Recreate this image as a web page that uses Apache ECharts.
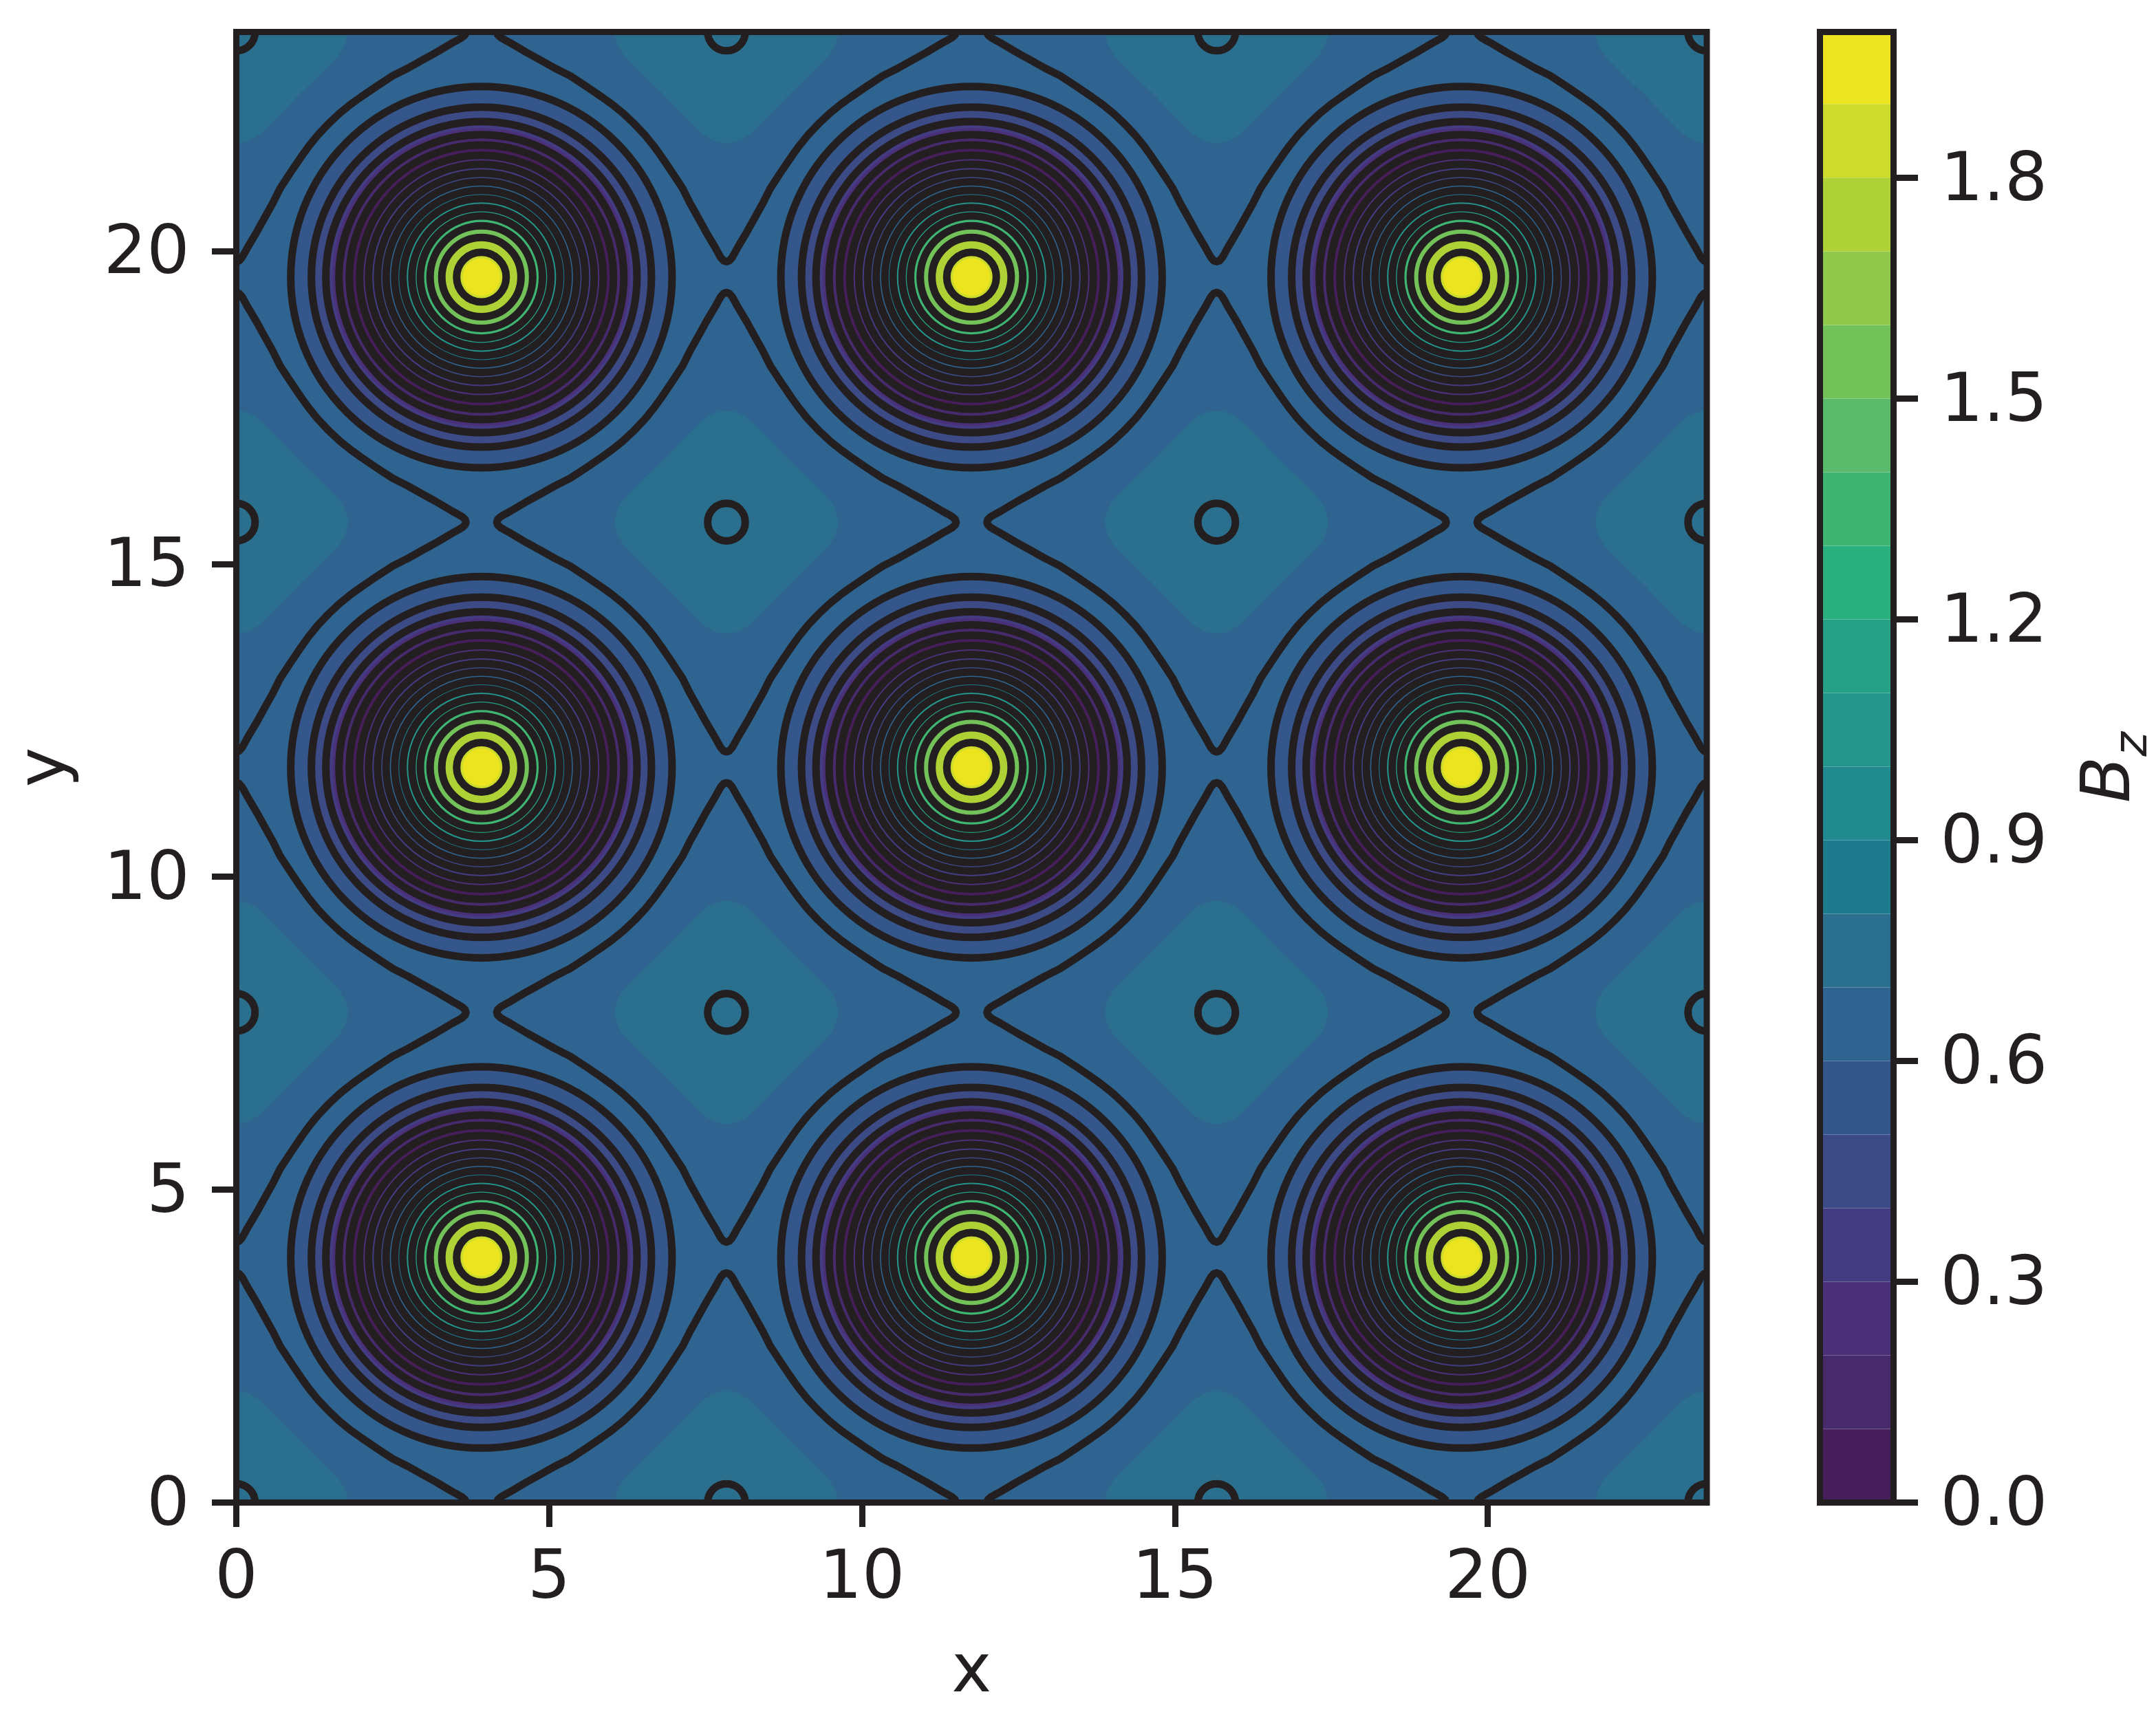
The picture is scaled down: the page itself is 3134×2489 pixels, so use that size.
<!DOCTYPE html>
<html>
<head>
<meta charset="utf-8">
<style>html,body{margin:0;padding:0;background:#fff}#c{width:3134px;height:2489px}</style>
<script src="https://cdn.jsdelivr.net/npm/echarts@6/dist/echarts.min.js"></script>
</head>
<body>
<div id="c"></div>
<script>
// Tick labels
var xyTicks = [0, 5, 10, 15, 20];
var colorbarTicks = [0.0, 0.3, 0.6, 0.9, 1.2, 1.5, 1.8];
var domainMax = 23.5;
var colorbarMax = 1.998;

// Filled contour bands: one colour per 0.1 step of Bz
var bandLevels = [0,0.1,0.2,0.3,0.4,0.5,0.6,0.7,0.8,0.9,1.0,1.1,1.2,1.3,1.4,1.5,1.6,1.7,1.8,1.9];
var bandColors = ['#461E5A','#472A6C','#4A3079','#433C83','#3C4A86','#34568B','#2F6490','#2A708E','#1E7B8D','#208A8F',
                  '#23958B','#26A185','#2AB07F','#3FB574','#58BA6A','#72C159','#8FC84A','#AED136','#CDDC2C','#ECE41F'];

// Positions of field extremes
var vortexX = [3.917, 11.75, 19.583];
var vortexY = [3.917, 11.75, 19.583];
var saddleX = [0, 7.833, 15.667, 23.5];
var saddleY = [0, 7.833, 15.667, 23.5];

// Radii of the round black contour lines around a vortex
var ringRadii = [3.047,2.717,2.486,2.277,2.112,1.947,1.804,1.661,1.524,1.386,1.254,1.111,0.976,0.820,0.633,0.396];
// Filled discs around a vortex, outermost first: radius and band index
var discRadii = [3.047,2.717,2.486,2.38,2.277,2.112,1.947,1.804,1.661,1.524,1.386,1.254,1.111,0.976,0.820,0.633,0.396,0.30];
var discBands = [5,4,3,2,1,0,2,3,4,6,8,10,11,13,15,17,18,19];

// Small contour around each saddle-centre maximum
var smallRingRadius = 0.30;
// The 0.7 band boundary around each maximum: half of a quadrant, tip to diagonal
var diamondDx = [1.78,1.77,1.735,1.68,1.61,1.52,1.42,1.28,1.00];
var diamondDy = [0,0.10,0.21,0.31,0.40,0.49,0.59,0.73,1.00];
// The outer black contour around each maximum: half of a quadrant, tip to diagonal
var sepDx = [3.67,3.655,3.605,3.535,3.45,3.19,2.99,2.74,2.50,2.24,1.99,1.83,1.65,1.47];
var sepDy = [0,0.045,0.09,0.13,0.176,0.33,0.44,0.58,0.70,0.87,1.04,1.155,1.30,1.47];

var ink = '#231F20', lineW = 11, font = 'DejaVu Sans', fs = 98;

function loop(dx, dy) {
  var q = [], i;
  for (i = 0; i < dx.length; i++) q.push([dx[i], dy[i]]);
  for (i = dx.length - 2; i >= 0; i--) q.push([dy[i], dx[i]]);
  var out = [];
  [[1,0,0,1],[0,-1,1,0],[-1,0,0,-1],[0,1,-1,0]].forEach(function (m) {
    q.forEach(function (p) { out.push([m[0]*p[0]+m[1]*p[1], m[2]*p[0]+m[3]*p[1]]); });
  });
  return out;
}
var diamondLoop = loop(diamondDx, diamondDy), sepLoop = loop(sepDx, sepDy);

function product(xs, ys) {
  var out = [];
  xs.forEach(function (x) { ys.forEach(function (y) { out.push([x, y]); }); });
  return out;
}

function loopRender(points, fill, stroke) {
  return function (params, api) {
    var cx = api.value(0), cy = api.value(1);
    return {
      type: 'polygon',
      shape: { points: points.map(function (p) { return api.coord([cx + p[0], cy + p[1]]); }) },
      style: { fill: fill, stroke: stroke, lineWidth: stroke ? lineW : 0, lineJoin: 'round' }
    };
  };
}
function discRender(params, api) {
  var c = api.coord([api.value(0), api.value(1)]);
  return { type: 'circle', shape: { cx: c[0], cy: c[1], r: api.size([api.value(2), 0])[0] },
           style: { fill: bandColors[api.value(3)] } };
}
function ringRender(params, api) {
  var c = api.coord([api.value(0), api.value(1)]);
  return { type: 'circle', shape: { cx: c[0], cy: c[1], r: api.size([api.value(2), 0])[0] },
           style: { fill: 'none', stroke: ink, lineWidth: lineW } };
}
function frameRender(xMax, yMax) {
  return function (params, api) {
    var a = api.coord([0, yMax]), b = api.coord([xMax, 0]);
    return { type: 'rect', shape: { x: a[0], y: a[1], width: b[0]-a[0], height: b[1]-a[1] },
             style: { fill: 'none', stroke: ink, lineWidth: 9 } };
  };
}
function bandRender(params, api) {
  var a = api.coord([0, Math.min(api.value(0) + 0.1, colorbarMax)]), b = api.coord([1, api.value(0)]);
  return { type: 'rect', shape: { x: a[0], y: a[1], width: b[0]-a[0], height: b[1]-a[1] },
           style: { fill: bandColors[params.dataIndex] } };
}

var discData = [];
vortexX.forEach(function (x) { vortexY.forEach(function (y) {
  discRadii.forEach(function (r, i) { discData.push([x, y, r, discBands[i]]); });
}); });
var ringData = [];
vortexX.forEach(function (x) { vortexY.forEach(function (y) {
  ringRadii.forEach(function (r) { ringData.push([x, y, r]); });
}); });
var smallData = product(saddleX, saddleY).map(function (p) { return [p[0], p[1], smallRingRadius]; });

function custom(data, render, clip, extra) {
  var s = { type: 'custom', data: data, renderItem: render, clip: clip, silent: true, animation: false,
            xAxisIndex: 0, yAxisIndex: 0, progressive: 0 };
  for (var k in extra) s[k] = extra[k];
  return s;
}

function axisCommon(ticks, fmt, margin, padTop) {
  return {
    axisLine: { show: false, onZero: false },
    axisTick: { show: true, length: 35.5, lineStyle: { color: ink, width: 9 }, customValues: ticks },
    axisLabel: { show: true, color: ink, fontFamily: font, fontSize: fs, margin: margin, customValues: ticks,
      formatter: function (v) { return '{t|' + fmt(v) + '}'; },
      rich: { t: { color: ink, fontFamily: font, fontSize: fs, padding: [padTop, 0, 0, 0] } } },
    splitLine: { show: false }
  };
}
function merge(a, b) { for (var k in b) a[k] = b[k]; return a; }
var intFmt = function (v) { return String(Math.round(v)); };
var nameStyle = { color: ink, fontFamily: font, fontSize: fs };

var chart = echarts.init(document.getElementById('c'), null, { renderer: 'canvas', width: 3134, height: 2489 });
chart.setOption({
  backgroundColor: '#fff',
  animation: false,
  grid: [
    { left: 343.5, top: 46.5, width: 2137.5, height: 2138, show: true, backgroundColor: bandColors[6], borderWidth: 0, outerBoundsMode: 'none' },
    { left: 2645.5, top: 46.5, width: 107, height: 2138, outerBoundsMode: 'none' }
  ],
  xAxis: [
    merge({ type: 'value', gridIndex: 0, min: 0, max: domainMax, interval: 5, position: 'bottom',
      name: 'x', nameLocation: 'middle', nameGap: 200, nameTextStyle: nameStyle }, axisCommon(xyTicks, intFmt, 64, 0)),
    { type: 'value', gridIndex: 1, min: 0, max: 1, axisLine: { show: false, onZero: false }, axisTick: { show: false }, axisLabel: { show: false }, splitLine: { show: false } }
  ],
  yAxis: [
    merge({ type: 'value', gridIndex: 0, min: 0, max: domainMax, interval: 5, position: 'left',
      name: 'y', nameLocation: 'middle', nameGap: 226, nameTextStyle: nameStyle }, axisCommon(xyTicks, intFmt, 68, 14)),
    merge({ type: 'value', gridIndex: 1, min: 0, max: colorbarMax, interval: 0.3, position: 'right',
      name: '{b|B}{z|z}', nameLocation: 'middle', nameRotate: 90, nameGap: 268,
      nameTextStyle: { color: ink, rich: {
        b: { fontFamily: font, fontStyle: 'italic', fontSize: fs, color: ink, lineHeight: 116, verticalAlign: 'top' },
        z: { fontFamily: font, fontStyle: 'italic', fontSize: 68, color: ink, lineHeight: 116, verticalAlign: 'bottom' }
      } } },
      axisCommon(colorbarTicks, function (v) { return v.toFixed(1); }, 68, 14))
  ],
  series: [
    custom(product(saddleX, saddleY), loopRender(diamondLoop, bandColors[7], null), true, { z: 2 }),
    custom(discData, discRender, true, { z: 3 }),
    custom(ringData, ringRender, true, { z: 4 }),
    custom(product(saddleX, saddleY), loopRender(sepLoop, 'none', ink), true, { z: 4 }),
    custom(smallData, ringRender, true, { z: 4 }),
    custom([[0]], frameRender(domainMax, domainMax), false, { z: 6 }),
    custom(bandLevels.map(function (v) { return [v]; }), bandRender, true, { z: 2, xAxisIndex: 1, yAxisIndex: 1 }),
    custom([[0]], frameRender(1, colorbarMax), false, { z: 6, xAxisIndex: 1, yAxisIndex: 1 })
  ]
});
</script>
</body>
</html>
